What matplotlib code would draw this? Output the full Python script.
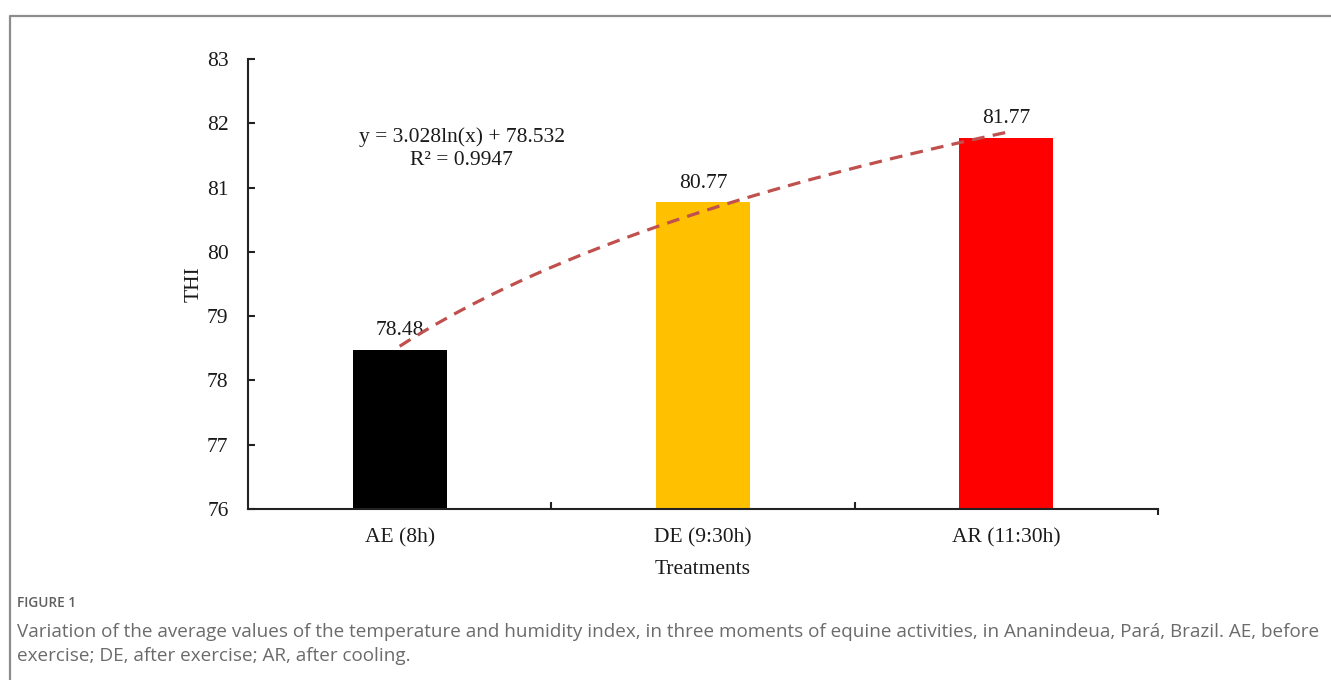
import numpy as np
import matplotlib
matplotlib.use("Agg")
import matplotlib.pyplot as plt
from matplotlib.lines import Line2D

categories = ["AE (8h)", "DE (9:30h)", "AR (11:30h)"]
thi_values = [78.48, 80.77, 81.77]
bar_colors = ["#000000", "#FFC000", "#FF0000"]
trend_a = 3.028
trend_b = 78.532
r_squared = 0.9947
y_ticks = [76, 77, 78, 79, 80, 81, 82, 83]

serif = ["Liberation Serif", "DejaVu Serif"]
sans = ["Open Sans", "DejaVu Sans"]
FS = 15.5

W, H = 1331, 680
fig = plt.figure(figsize=(W / 100, H / 100), dpi=100)
ax = fig.add_axes([248 / W, 1 - 509 / H, (1158 - 248) / W, (509 - 59) / H])

x = np.arange(len(categories))
ax.bar(x, [v - y_ticks[0] for v in thi_values], bottom=y_ticks[0], width=0.31,
       color=bar_colors, zorder=2)

for xi, v in zip(x, thi_values):
    ax.annotate(f"{v:.2f}", (xi, v), xytext=(0, 7), textcoords="offset points",
                ha="center", va="bottom", fontsize=FS, family=serif, color="#1a1a1a")

# logarithmic trendline (Excel style): x = 1..3
tx = np.linspace(1, 3, 200)
ty = trend_a * np.log(tx) + trend_b
ax.plot(tx - 1, ty, color="#C0504D", lw=2.3, ls=(0, (4, 2.6)), zorder=3,
        dash_capstyle="butt")

ax.text(0.205, 81.6, f"y = {trend_a:.3f}ln(x) + {trend_b:.3f}\nR² = {r_squared:.4f}",
        ha="center", va="center", fontsize=FS, family=serif, linespacing=1.28,
        color="#1a1a1a")

ax.set_xlim(-0.5, 2.5)
ax.set_ylim(y_ticks[0], y_ticks[-1])
ax.set_yticks(y_ticks)
ax.set_xticks(x)
ax.set_xticklabels(categories)
ax.set_xticks([0.5, 1.5], minor=True)

for s in ["top", "right"]:
    ax.spines[s].set_visible(False)
for s in ["left", "bottom"]:
    ax.spines[s].set_linewidth(1.5)
    ax.spines[s].set_color("#222222")

ax.tick_params(axis="y", direction="in", length=5, width=1.5, pad=14,
               labelsize=FS, colors="#222222")
ax.tick_params(axis="x", which="major", length=0, pad=14, labelsize=FS,
               colors="#222222")
ax.tick_params(axis="x", which="minor", direction="in", length=5, width=1.5,
               colors="#222222")
for lab in ax.get_xticklabels() + ax.get_yticklabels():
    lab.set_family(serif)
    lab.set_color("#1a1a1a")

sec = ax.secondary_xaxis(0)
sec.set_xticks([2.5])
sec.set_xticklabels([""])
sec.tick_params(direction="out", length=4, width=1.5, colors="#222222")
sec.spines["bottom"].set_visible(False)

ax.set_xlabel("Treatments", fontsize=FS, family=serif, labelpad=9, color="#1a1a1a")
ax.set_ylabel("THI", fontsize=FS, family=serif, labelpad=2, color="#1a1a1a")

# frame border
fig.add_artist(Line2D([10 / W, 10 / W, 1.0], [0.0, 1 - 16 / H, 1 - 16 / H],
                      transform=fig.transFigure, color="#8c8c8c", lw=1.6))

fig.text(17 / W, 1 - 603 / H, "FIGURE 1", fontsize=9.8, family=sans,
         color="#5f5f5f", va="center", ha="left", fontweight="semibold")
fig.text(17 / W, 1 - 632 / H,
         "Variation of the average values of the temperature and humidity index, in three moments of equine activities, in Ananindeua, Pará, Brazil. AE, before",
         fontsize=13.6, family=sans, color="#6b6b6b", va="center", ha="left")
fig.text(17 / W, 1 - 656 / H, "exercise; DE, after exercise; AR, after cooling.",
         fontsize=13.6, family=sans, color="#6b6b6b", va="center", ha="left")

fig.savefig("out.png", dpi=100, facecolor="white")
